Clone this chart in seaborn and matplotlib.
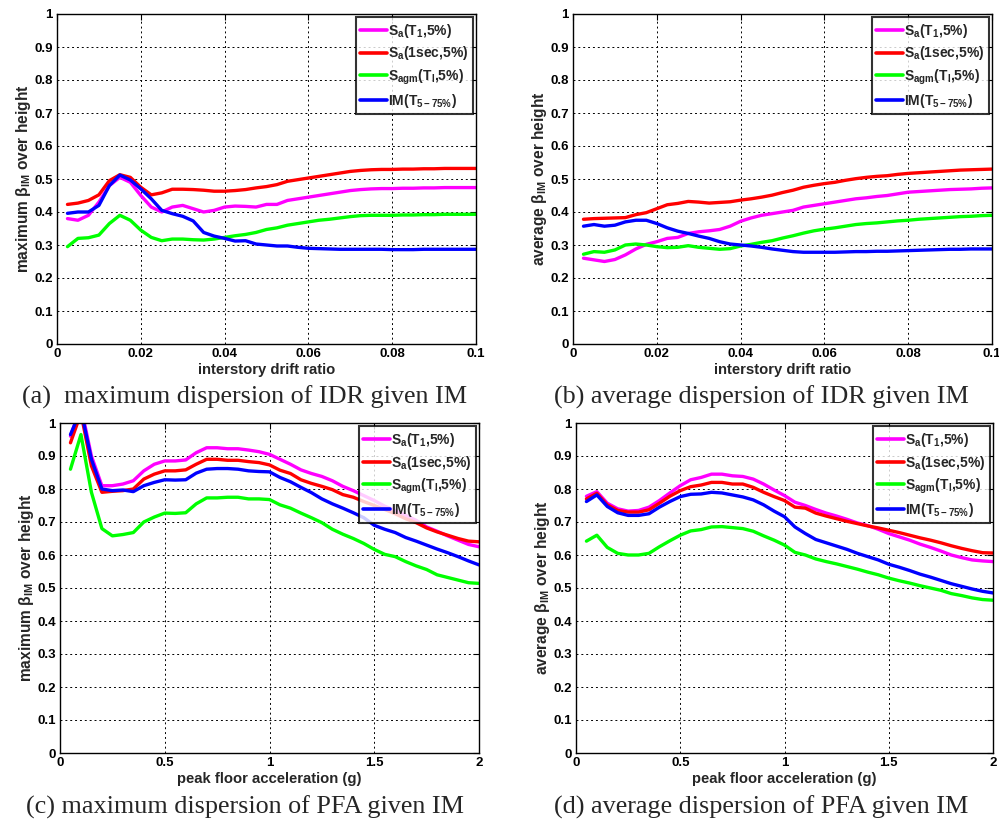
import numpy as np
import pandas as pd
import matplotlib
matplotlib.use("Agg")
import matplotlib.pyplot as plt
import seaborn as sns

# ---------------- data ----------------
idr = [0.0025, 0.005, 0.0075, 0.01, 0.0125, 0.015, 0.0175, 0.02, 0.0225, 0.025,
       0.0275, 0.03, 0.0325, 0.035, 0.0375, 0.04, 0.0425, 0.045, 0.0475, 0.05,
       0.0525, 0.055, 0.0575, 0.06, 0.0625, 0.065, 0.0675, 0.07, 0.0725, 0.075,
       0.0775, 0.08, 0.0825, 0.085, 0.0875, 0.09, 0.0925, 0.095, 0.0975, 0.1]

pfa = [0.05, 0.1, 0.15, 0.2, 0.25, 0.3, 0.35, 0.4, 0.45, 0.5,
       0.55, 0.6, 0.65, 0.7, 0.75, 0.8, 0.85, 0.9, 0.95, 1.0,
       1.05, 1.1, 1.15, 1.2, 1.25, 1.3, 1.35, 1.4, 1.45, 1.5,
       1.55, 1.6, 1.65, 1.7, 1.75, 1.8, 1.85, 1.9, 1.95, 2.0]

series_labels = [r"S$_\mathregular{a}$(T$_\mathregular{1}$,5%)",
                 r"S$_\mathregular{a}$(1sec,5%)",
                 r"S$_\mathregular{agm}$(T$_\mathregular{l}$,5%)",
                 r"IM(T$_\mathregular{5-75\%}$)"]
series_colors = ["#FF00FF", "#FF0000", "#00FF00", "#0000FF"]

# (a) maximum dispersion of IDR
a_sa_t1 = [0.380, 0.375, 0.390, 0.430, 0.480, 0.505, 0.490, 0.450, 0.415, 0.400,
           0.415, 0.420, 0.410, 0.400, 0.405, 0.415, 0.418, 0.417, 0.415, 0.423,
           0.423, 0.435, 0.440, 0.445, 0.450, 0.455, 0.460, 0.465, 0.468, 0.470,
           0.471, 0.471, 0.472, 0.472, 0.473, 0.473, 0.474, 0.474, 0.474, 0.474]
a_sa_1s = [0.423, 0.427, 0.435, 0.452, 0.495, 0.513, 0.505, 0.475, 0.452, 0.458,
           0.469, 0.469, 0.468, 0.466, 0.463, 0.463, 0.465, 0.468, 0.473, 0.477,
           0.483, 0.493, 0.498, 0.503, 0.508, 0.513, 0.518, 0.523, 0.526, 0.528,
           0.529, 0.529, 0.530, 0.530, 0.531, 0.531, 0.532, 0.532, 0.532, 0.532]
a_sagm = [0.295, 0.320, 0.322, 0.330, 0.365, 0.390, 0.375, 0.345, 0.323, 0.313,
          0.318, 0.318, 0.316, 0.315, 0.318, 0.323, 0.328, 0.332, 0.338, 0.347,
          0.352, 0.360, 0.365, 0.370, 0.375, 0.378, 0.382, 0.386, 0.389, 0.390,
          0.390, 0.390, 0.391, 0.391, 0.392, 0.392, 0.393, 0.393, 0.393, 0.393]
a_im = [0.396, 0.400, 0.400, 0.420, 0.480, 0.512, 0.497, 0.470, 0.440, 0.405,
        0.395, 0.387, 0.373, 0.338, 0.327, 0.320, 0.312, 0.313, 0.303, 0.300,
        0.297, 0.297, 0.293, 0.290, 0.289, 0.288, 0.287, 0.287, 0.287, 0.287,
        0.287, 0.286, 0.286, 0.286, 0.287, 0.287, 0.287, 0.287, 0.287, 0.287]

# (b) average dispersion of IDR
b_sa_t1 = [0.260, 0.255, 0.250, 0.256, 0.270, 0.288, 0.302, 0.310, 0.320, 0.323,
           0.335, 0.340, 0.343, 0.347, 0.357, 0.372, 0.382, 0.390, 0.395, 0.400,
           0.405, 0.415, 0.420, 0.425, 0.430, 0.435, 0.440, 0.443, 0.447, 0.450,
           0.455, 0.460, 0.462, 0.464, 0.466, 0.468, 0.469, 0.470, 0.472, 0.473]
b_sa_1s = [0.378, 0.380, 0.381, 0.382, 0.383, 0.392, 0.398, 0.410, 0.422, 0.426,
           0.432, 0.430, 0.427, 0.429, 0.431, 0.436, 0.440, 0.445, 0.451, 0.459,
           0.466, 0.475, 0.481, 0.486, 0.490, 0.496, 0.501, 0.505, 0.508, 0.510,
           0.514, 0.517, 0.519, 0.521, 0.523, 0.525, 0.527, 0.528, 0.529, 0.530]
b_sagm = [0.272, 0.280, 0.278, 0.285, 0.300, 0.303, 0.300, 0.295, 0.292, 0.293,
          0.298, 0.293, 0.290, 0.287, 0.289, 0.297, 0.302, 0.308, 0.313, 0.321,
          0.328, 0.336, 0.343, 0.348, 0.352, 0.357, 0.362, 0.365, 0.367, 0.370,
          0.373, 0.375, 0.378, 0.380, 0.382, 0.384, 0.386, 0.387, 0.389, 0.390]
b_im = [0.357, 0.362, 0.357, 0.360, 0.370, 0.375, 0.375, 0.365, 0.352, 0.342,
        0.335, 0.327, 0.320, 0.310, 0.303, 0.300, 0.297, 0.293, 0.288, 0.284,
        0.280, 0.278, 0.278, 0.278, 0.278, 0.279, 0.280, 0.280, 0.281, 0.281,
        0.282, 0.283, 0.284, 0.285, 0.286, 0.287, 0.287, 0.288, 0.288, 0.288]

# (c) maximum dispersion of PFA
c_sa_t1 = [0.960, 1.050, 0.900, 0.810, 0.810, 0.815, 0.825, 0.855, 0.875, 0.885,
           0.885, 0.888, 0.910, 0.925, 0.925, 0.922, 0.922, 0.918, 0.913, 0.905,
           0.890, 0.875, 0.858, 0.847, 0.838, 0.825, 0.808, 0.795, 0.780, 0.765,
           0.748, 0.735, 0.720, 0.705, 0.685, 0.672, 0.658, 0.645, 0.632, 0.625]
c_sa_1s = [0.940, 1.030, 0.870, 0.790, 0.793, 0.795, 0.800, 0.830, 0.845, 0.855,
           0.855, 0.858, 0.875, 0.890, 0.890, 0.887, 0.887, 0.883, 0.880, 0.873,
           0.857, 0.847, 0.828, 0.817, 0.808, 0.798, 0.783, 0.775, 0.762, 0.750,
           0.738, 0.725, 0.710, 0.698, 0.682, 0.670, 0.660, 0.650, 0.642, 0.640]
c_sagm = [0.860, 0.965, 0.790, 0.680, 0.658, 0.662, 0.668, 0.700, 0.715, 0.727,
          0.726, 0.728, 0.755, 0.773, 0.773, 0.775, 0.775, 0.770, 0.770, 0.768,
          0.752, 0.742, 0.727, 0.713, 0.698, 0.678, 0.663, 0.650, 0.635, 0.617,
          0.602, 0.595, 0.580, 0.567, 0.556, 0.540, 0.532, 0.524, 0.516, 0.514]
c_im = [0.965, 1.040, 0.890, 0.800, 0.795, 0.797, 0.792, 0.810, 0.820, 0.828,
        0.827, 0.828, 0.848, 0.860, 0.862, 0.862, 0.860, 0.855, 0.853, 0.852,
        0.835, 0.822, 0.805, 0.789, 0.770, 0.755, 0.742, 0.728, 0.713, 0.690,
        0.678, 0.668, 0.653, 0.642, 0.630, 0.618, 0.607, 0.595, 0.582, 0.570]

# (d) average dispersion of PFA
d_sa_t1 = [0.778, 0.792, 0.757, 0.740, 0.733, 0.735, 0.745, 0.765, 0.788, 0.810,
           0.828, 0.835, 0.845, 0.845, 0.840, 0.838, 0.830, 0.815, 0.797, 0.780,
           0.760, 0.750, 0.738, 0.727, 0.718, 0.708, 0.697, 0.689, 0.678, 0.665,
           0.655, 0.645, 0.633, 0.623, 0.612, 0.600, 0.592, 0.585, 0.582, 0.580]
d_sa_1s = [0.770, 0.787, 0.752, 0.735, 0.730, 0.730, 0.737, 0.757, 0.778, 0.795,
           0.807, 0.812, 0.820, 0.820, 0.815, 0.815, 0.805, 0.790, 0.777, 0.765,
           0.745, 0.742, 0.727, 0.718, 0.710, 0.702, 0.695, 0.688, 0.682, 0.675,
           0.668, 0.660, 0.652, 0.645, 0.637, 0.628, 0.620, 0.613, 0.607, 0.606]
d_sagm = [0.642, 0.660, 0.623, 0.605, 0.600, 0.600, 0.605, 0.625, 0.643, 0.660,
          0.673, 0.677, 0.685, 0.686, 0.683, 0.680, 0.672, 0.658, 0.645, 0.630,
          0.608, 0.600, 0.588, 0.580, 0.573, 0.565, 0.557, 0.548, 0.540, 0.530,
          0.522, 0.515, 0.507, 0.500, 0.493, 0.483, 0.477, 0.470, 0.465, 0.463]
d_im = [0.762, 0.782, 0.747, 0.728, 0.720, 0.720, 0.725, 0.745, 0.762, 0.777,
        0.784, 0.785, 0.790, 0.788, 0.782, 0.776, 0.767, 0.752, 0.733, 0.716,
        0.685, 0.665, 0.647, 0.637, 0.627, 0.617, 0.605, 0.595, 0.585, 0.572,
        0.563, 0.553, 0.542, 0.533, 0.523, 0.513, 0.505, 0.497, 0.490, 0.485]

x_ticks_idr = [0, 0.02, 0.04, 0.06, 0.08, 0.1]
x_ticklabels_idr = ["0", "0.02", "0.04", "0.06", "0.08", "0.1"]
x_ticks_pfa = [0, 0.5, 1, 1.5, 2]
x_ticklabels_pfa = ["0", "0.5", "1", "1.5", "2"]
y_ticks = [0, 0.1, 0.2, 0.3, 0.4, 0.5, 0.6, 0.7, 0.8, 0.9, 1]
y_ticklabels = ["0", "0.1", "0.2", "0.3", "0.4", "0.5", "0.6", "0.7", "0.8", "0.9", "1"]

xlabel_idr = "interstory drift ratio"
xlabel_pfa = "peak floor acceleration (g)"
ylabel_max = r"maximum $\mathregular{\beta_{IM}}$ over height"
ylabel_avg = r"average $\mathregular{\beta_{IM}}$ over height"
captions = ["(a)  maximum dispersion of IDR given IM",
            "(b) average dispersion of IDR given IM",
            "(c) maximum dispersion of PFA given IM",
            "(d) average dispersion of PFA given IM"]

# ---------------- style ----------------
sns.set_style("white")
plt.rcParams["font.family"] = ["Liberation Sans", "DejaVu Sans"]
plt.rcParams["font.weight"] = "bold"
plt.rcParams["mathtext.fontset"] = "custom"
plt.rcParams["mathtext.rm"] = "Liberation Sans:bold"
plt.rcParams["mathtext.it"] = "Liberation Sans:bold"
plt.rcParams["mathtext.bf"] = "Liberation Sans:bold"

fig = plt.figure(figsize=(9.99, 8.23), dpi=100)

positions = [
    (57 / 999, 1 - 344 / 823, 419 / 999, 330 / 823),
    (573 / 999, 1 - 344 / 823, 419 / 999, 330 / 823),
    (60 / 999, 1 - 753 / 823, 419 / 999, 330 / 823),
    (576 / 999, 1 - 753 / 823, 417 / 999, 330 / 823),
]

panels = [
    (idr, [a_sa_t1, a_sa_1s, a_sagm, a_im], xlabel_idr, ylabel_max, (0, 0.1), x_ticks_idr, x_ticklabels_idr),
    (idr, [b_sa_t1, b_sa_1s, b_sagm, b_im], xlabel_idr, ylabel_avg, (0, 0.1), x_ticks_idr, x_ticklabels_idr),
    (pfa, [c_sa_t1, c_sa_1s, c_sagm, c_im], xlabel_pfa, ylabel_max, (0, 2), x_ticks_pfa, x_ticklabels_pfa),
    (pfa, [d_sa_t1, d_sa_1s, d_sagm, d_im], xlabel_pfa, ylabel_avg, (0, 2), x_ticks_pfa, x_ticklabels_pfa),
]

caption_pos = [(245, 397), (761, 397), (245, 807), (761, 807)]

for i, (xs, ys, xl, yl, xlim, xt, xtl) in enumerate(panels):
    ax = fig.add_axes(positions[i])
    frames = []
    for lab, vals in zip(series_labels, ys):
        frames.append(pd.DataFrame({"x": xs, "y": vals, "IM": lab}))
    df = pd.concat(frames, ignore_index=True)
    sns.lineplot(data=df, x="x", y="y", hue="IM", palette=dict(zip(series_labels, series_colors)),
                 linewidth=2.4, ax=ax, legend=True, sort=False)
    ax.set_xlim(*xlim)
    ax.set_ylim(0, 1)
    ax.set_xticks(xt)
    ax.set_xticklabels(xtl, fontsize=9.5, fontweight="bold")
    ax.set_yticks(y_ticks)
    ax.set_yticklabels(y_ticklabels, fontsize=9.5, fontweight="bold")
    ax.set_xlabel(xl, fontsize=10.7, fontweight="bold", labelpad=2)
    ax.set_ylabel(yl, fontsize=11.2, fontweight="bold", labelpad=1)
    ax.grid(True, color="black", linestyle=(0, (2, 3)), linewidth=0.7)
    ax.tick_params(direction="in", length=4, width=0.8, top=True, right=True,
                   pad=3, colors="black")
    for sp in ax.spines.values():
        sp.set_visible(True)
        sp.set_color("black")
        sp.set_linewidth(1.0)
    leg = ax.legend(loc="upper right", fontsize=10, frameon=True, fancybox=False,
                    handlelength=1.9, borderaxespad=0.25, labelspacing=0.35,
                    handletextpad=0.1, borderpad=0.3)
    leg.get_frame().set_edgecolor("black")
    leg.get_frame().set_linewidth(1.5)
    for t in leg.get_texts():
        t.set_fontweight("bold")
    for h in leg.get_lines():
        h.set_linewidth(2.6)
    cx, cy = caption_pos[i]
    fig.text(cx / 999, 1 - cy / 823, captions[i], ha="center", va="center",
             fontsize=18.8, fontweight="normal", family=["Liberation Serif", "DejaVu Serif"])

fig.savefig("out.png", dpi=100)
